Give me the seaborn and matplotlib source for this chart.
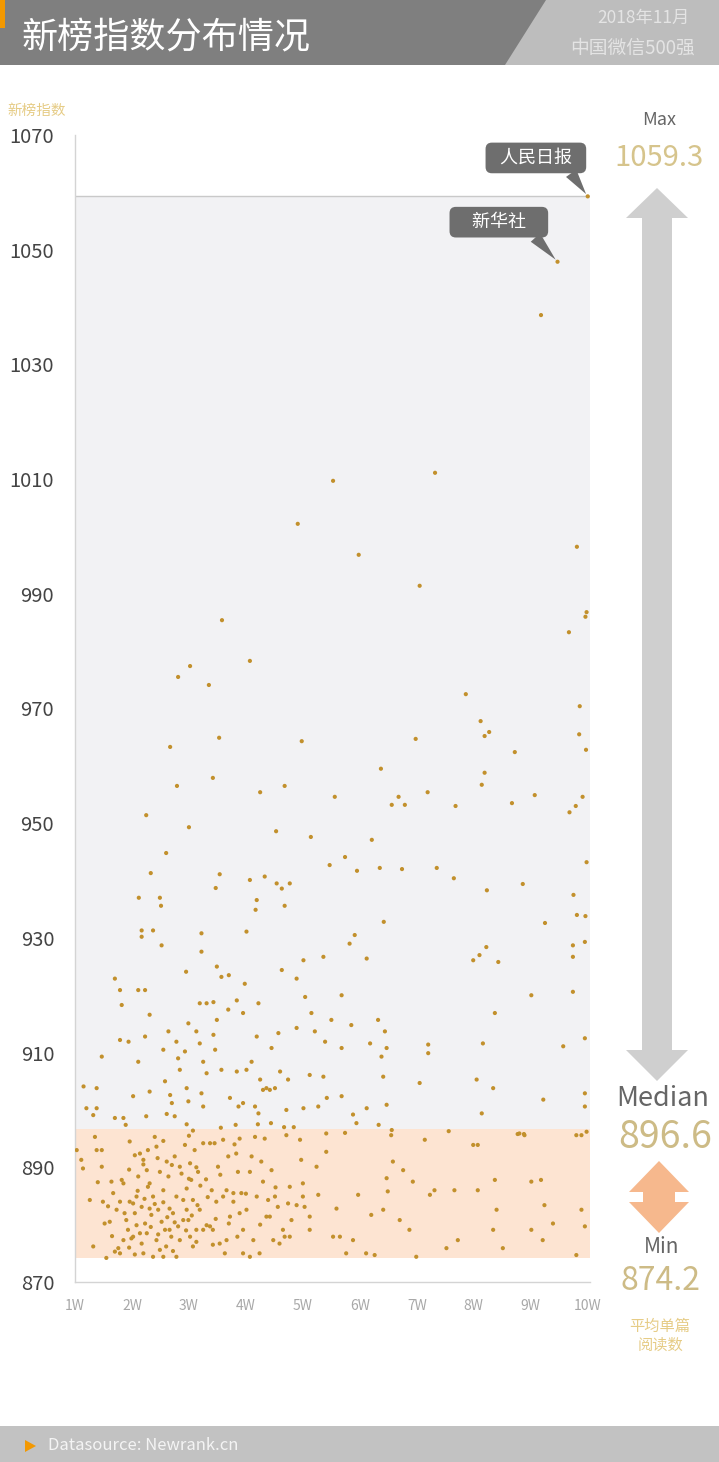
import numpy as np
import pandas as pd
import matplotlib
matplotlib.use("Agg")
import matplotlib.pyplot as plt
import seaborn as sns
from matplotlib.patches import Polygon, Rectangle

# ---------------- data ----------------
# (average reads per article in 万, 新榜指数)
top_pts = [
    (10.00, 1059.3), (9.47, 1047.9), (9.18, 1038.6), (7.32, 1011.1), (5.53, 1009.7),
    (4.91, 1002.2), (5.98, 996.8), (9.81, 998.2), (7.05, 991.4), (9.98, 986.8),
    (9.96, 986.0), (9.67, 983.3), (3.58, 985.4), (3.02, 977.4), (2.81, 975.5),
    (4.07, 978.3), (3.35, 974.1), (7.86, 972.5), (9.86, 970.4), (8.12, 967.8),
    (8.19, 965.2), (8.27, 965.9), (2.67, 963.3), (3.53, 964.9), (4.98, 964.3),
    (6.98, 964.7), (9.85, 965.5), (9.97, 962.8), (8.72, 962.4), (8.19, 958.8),
    (6.37, 959.5), (3.42, 957.9), (2.79, 956.5), (4.25, 955.4), (8.14, 956.7),
    (9.07, 954.9), (4.68, 956.5), (5.56, 954.6), (7.19, 955.4), (6.68, 954.6),
    (6.79, 953.2), (6.56, 953.2), (8.67, 953.5), (9.68, 951.9), (9.79, 953.0),
    (9.91, 954.6), (2.25, 951.4), (7.68, 953.0), (3.00, 949.3), (4.53, 948.6),
    (5.14, 947.6), (6.21, 947.1), (2.60, 944.8), (5.47, 942.7), (5.74, 944.1),
    (5.95, 941.7), (6.35, 942.2), (6.74, 942.0), (7.35, 942.2), (7.65, 940.4),
    (2.33, 941.3), (3.54, 941.1), (4.07, 940.1), (4.33, 940.7), (4.54, 939.5),
    (4.63, 938.6), (4.77, 939.5), (8.23, 938.3), (8.86, 939.4), (9.98, 943.2),
    (3.47, 938.7), (2.12, 937.0), (2.49, 937.0), (2.51, 935.6), (4.19, 936.6),
    (4.68, 935.6), (4.17, 934.9), (9.75, 937.5), (9.81, 934.0), (6.42, 932.8),
    (9.25, 932.6), (9.96, 933.8),
]

mid_pts = [
    (2.17, 931.3), (2.17, 930.2), (2.37, 931.3), (2.52, 928.7), (3.22, 930.8),
    (4.01, 931.1), (3.22, 927.6), (5.91, 930.5), (5.82, 929.0), (4.63, 924.4),
    (5.01, 926.1), (5.36, 926.7), (6.12, 926.4), (4.89, 922.9), (7.99, 926.1),
    (8.10, 927.0), (8.22, 928.4), (8.43, 925.8), (9.74, 928.7), (9.95, 929.3),
    (9.74, 926.7), (1.70, 922.9), (1.79, 920.9), (2.11, 920.9), (2.23, 920.9),
    (3.49, 925.0), (3.57, 923.2), (3.98, 922.0), (5.04, 919.7), (5.68, 920.0),
    (9.01, 920.0), (9.74, 920.6), (3.19, 918.6), (3.31, 918.6), (3.43, 918.8),
    (3.84, 919.1), (2.95, 924.1), (3.70, 923.5),
    (1.82, 918.3), (2.31, 916.6), (2.64, 913.7), (2.78, 911.9), (2.81, 909.0),
    (2.84, 907.0), (2.93, 910.2), (2.99, 915.1), (3.13, 913.7), (3.19, 911.6),
    (3.25, 908.4), (3.31, 906.4), (3.43, 913.1), (3.49, 915.7), (3.57, 907.0),
    (3.69, 917.5), (3.84, 906.7), (3.95, 916.9), (4.01, 907.0), (4.10, 908.4),
    (4.19, 912.8), (4.22, 918.6), (4.25, 905.3), (4.30, 903.5), (4.45, 910.8),
    (4.51, 903.8), (4.57, 913.4), (4.60, 906.7), (4.74, 905.3), (4.89, 914.3),
    (5.01, 900.3), (5.12, 906.1), (5.15, 916.9), (5.21, 913.7), (5.27, 900.6),
    (5.36, 905.8), (5.39, 911.9), (5.42, 902.1), (5.50, 915.7), (5.68, 910.8),
    (5.68, 902.4), (5.85, 914.8), (5.88, 899.2), (5.94, 897.7), (6.12, 900.3),
    (6.18, 911.6), (6.32, 915.7), (6.38, 909.3), (6.41, 905.8), (6.44, 913.7),
    (6.47, 910.8), (6.47, 900.9), (7.05, 904.7), (7.20, 911.4), (7.20, 909.9),
    (8.05, 905.3), (8.14, 899.4), (8.16, 911.6), (8.34, 903.8), (8.37, 916.9),
    (9.22, 901.8), (9.57, 911.1), (9.95, 912.5), (9.95, 902.9), (9.95, 900.6),
    (1.15, 904.1), (1.38, 903.8), (1.20, 900.3), (1.38, 900.3), (1.47, 909.3),
    (1.70, 898.6), (1.85, 898.6), (1.79, 912.2), (1.94, 911.9), (2.02, 902.4),
    (2.11, 908.4), (2.23, 912.8), (2.31, 903.2), (2.55, 910.5), (2.58, 905.0),
    (2.67, 902.6), (2.70, 901.2), (2.96, 903.8), (2.99, 901.5), (3.22, 902.9),
    (3.25, 900.6), (3.46, 910.5), (3.72, 902.1), (3.87, 900.6), (3.95, 901.2),
    (4.16, 900.6), (4.22, 899.4), (4.36, 903.8), (4.42, 903.5), (4.71, 900.0),
    (1.32, 899.1), (2.25, 898.9), (2.61, 899.3), (2.75, 898.9),
]

band_pts = [
    (1.89, 897.4), (2.96, 897.5), (3.07, 896.4), (3.56, 896.9), (3.82, 897.4),
    (4.21, 897.5), (4.44, 897.7), (4.67, 897.0), (4.84, 897.0), (6.33, 897.4),
    (5.74, 896.0), (6.56, 896.5), (7.56, 896.3), (8.77, 895.8), (8.88, 895.8),
    (9.89, 895.6), (9.98, 896.2),
    (1.03, 893.0), (1.11, 891.3), (1.14, 889.8), (1.35, 895.3), (1.38, 893.0),
    (1.47, 893.0), (1.47, 890.1), (1.64, 887.5), (1.67, 885.5), (1.73, 882.6),
    (1.79, 884.0), (1.82, 887.8), (1.85, 887.2), (1.90, 880.8), (1.93, 879.1),
    (1.96, 894.5), (1.99, 877.6), (2.02, 883.7), (2.05, 882.0), (2.08, 884.9),
    (2.11, 888.4), (2.14, 892.4), (2.17, 883.1), (2.20, 891.3), (2.23, 880.2),
    (2.26, 878.5), (2.28, 886.6), (2.31, 882.8), (2.34, 881.7), (2.37, 884.9),
    (2.40, 895.3), (2.43, 893.6), (2.43, 877.3), (2.46, 882.6), (2.49, 889.2),
    (2.52, 880.5), (2.55, 886.0), (2.58, 879.1), (2.61, 891.0), (2.64, 888.4),
    (2.66, 882.8), (2.69, 877.9), (2.72, 882.0), (2.75, 891.9), (2.78, 884.9),
    (2.81, 879.7), (2.84, 890.1), (2.90, 884.3), (2.93, 893.9), (2.96, 886.3),
    (2.99, 880.8), (3.02, 890.7), (3.04, 887.8), (3.07, 884.3), (3.10, 893.0),
    (3.13, 879.1), (3.16, 889.2), (3.19, 882.6), (3.25, 894.2), (3.31, 879.9),
    (3.37, 894.2), (3.40, 886.0), (3.42, 879.1), (3.45, 894.2), (3.48, 884.0),
    (3.51, 890.1), (3.54, 876.7), (3.60, 894.8), (3.63, 875.0), (3.66, 886.0),
    (3.69, 891.9), (3.72, 881.4), (3.78, 884.0), (3.83, 892.4), (3.86, 889.2),
    (3.89, 895.0), (3.92, 885.5), (3.95, 879.1), (4.01, 882.6), (4.07, 889.2),
    (4.10, 891.9), (4.13, 877.3), (4.16, 895.3), (4.19, 884.9), (4.27, 891.0),
    (4.30, 887.5), (4.33, 895.0), (4.36, 881.4), (4.39, 884.3), (4.45, 889.5),
    (4.48, 877.3), (4.51, 884.9), (4.56, 883.1), (4.65, 879.1), (4.68, 877.9),
    (4.71, 895.6), (4.74, 883.7), (4.77, 877.9), (4.80, 880.8), (4.89, 883.4),
    (4.95, 894.8), (4.97, 891.3), (5.00, 887.2), (5.03, 883.1), (5.12, 879.1),
    (5.24, 890.1), (5.27, 885.2), (5.41, 895.9), (5.41, 892.7), (5.53, 877.9),
    (5.59, 882.8), (5.65, 877.9), (5.76, 875.0), (5.88, 877.3), (5.97, 885.2),
    (6.11, 875.0), (6.20, 881.7), (6.26, 874.7), (6.41, 882.6), (6.47, 888.1),
    (6.49, 885.8), (6.55, 895.6), (6.58, 891.0), (6.70, 880.8), (6.76, 889.5),
    (6.87, 879.1), (6.93, 887.5), (6.99, 874.4), (7.14, 894.8), (7.23, 885.2),
    (7.31, 886.0), (7.52, 875.9), (7.66, 886.0), (7.72, 877.3), (7.99, 893.9),
    (8.07, 893.9), (8.07, 886.0), (8.34, 879.1), (8.37, 887.8), (8.40, 882.6),
    (8.51, 875.9), (8.80, 895.9), (8.89, 895.6), (9.01, 887.5), (9.01, 879.1),
    (9.18, 887.8), (9.21, 877.3), (9.24, 883.4), (9.39, 880.2), (9.80, 895.6),
    (9.80, 874.7), (9.89, 882.6), (9.95, 879.7),
    (1.26, 884.3), (1.32, 876.2), (1.49, 884.0), (1.52, 880.2), (1.55, 874.2),
    (1.61, 880.5), (1.70, 875.3), (1.76, 875.9), (1.79, 875.0), (1.85, 877.3),
    (1.87, 882.0), (1.96, 884.0), (2.02, 877.9), (2.08, 879.9), (2.14, 878.5),
    (2.17, 876.7), (2.20, 875.0), (2.26, 889.5), (2.31, 887.2), (2.37, 874.4),
    (2.49, 875.6), (2.55, 874.4), (2.66, 879.1), (2.78, 874.4), (2.84, 877.3),
    (2.90, 880.8), (2.96, 882.6), (3.02, 877.9), (3.07, 876.2), (3.13, 877.0),
    (3.25, 879.1), (3.37, 879.7), (3.42, 876.5), (3.60, 884.9), (3.66, 877.3),
    (3.78, 885.5), (3.89, 882.0), (3.95, 875.0), (4.07, 874.4), (4.24, 875.0),
    (4.42, 881.4), (4.59, 876.7), (4.77, 886.6), (5.00, 884.9), (5.12, 881.4),
    (2.05, 892.1), (2.20, 890.5), (2.45, 891.6), (2.70, 890.4), (2.87, 888.9),
    (3.00, 888.0), (3.13, 890.0), (3.20, 886.8), (2.10, 885.9), (2.22, 884.5),
    (2.40, 883.6), (2.55, 883.9), (2.62, 881.3), (2.75, 880.4), (2.95, 879.0),
    (3.05, 881.6), (3.15, 883.4), (2.33, 879.6), (2.46, 878.3), (2.60, 876.2),
    (2.72, 875.4), (1.95, 876.0), (2.05, 874.8), (1.65, 878.0), (1.58, 883.2),
    (1.40, 887.4), (1.95, 889.6), (3.30, 887.9), (3.55, 888.7), (3.70, 880.2),
    (3.85, 877.9), (4.00, 885.4), (4.25, 880.0), (4.52, 886.5), (3.33, 884.8),
    (3.47, 881.0), (2.28, 893.0), (2.55, 894.6), (3.00, 895.5), (3.80, 894.0),
]

max_val = 1059.3
median_val = 896.6
min_val = 874.2

y_ticks = [870, 890, 910, 930, 950, 970, 990, 1010, 1030, 1050, 1070]
x_ticks = [1, 2, 3, 4, 5, 6, 7, 8, 9, 10]
x_labels = ["1W", "2W", "3W", "4W", "5W", "6W", "7W", "8W", "9W", "10W"]

callout_names = ["人民日报", "新华社"]
callout_pts = [(10.00, 1059.3), (9.47, 1047.9)]

df = pd.DataFrame(top_pts + mid_pts + band_pts, columns=["reads", "index"])

# ---------------- figure ----------------
sns.set_theme(style="white")
plt.rcParams["font.family"] = ["Noto Sans CJK SC", "DejaVu Sans"]

W, H = 719, 1462
fig = plt.figure(figsize=(W / 100, H / 100), dpi=100, facecolor="white")

# decoration layer in pixel coordinates
deco = fig.add_axes([0, 0, 1, 1], zorder=0)
deco.set_xlim(0, W)
deco.set_ylim(H, 0)
deco.axis("off")

# header
deco.add_patch(Rectangle((0, 0), W, 65, color="#7f7f7f", lw=0))
deco.add_patch(Polygon([(546, 0), (W, 0), (W, 65), (505, 65)], closed=True, color="#bdbdbd", lw=0))
deco.add_patch(Rectangle((0, 0), 5, 28, color="#f39800", lw=0))
deco.text(22, 37, "新榜指数分布情况", color="white", fontsize=26, va="center", ha="left")
deco.text(643, 18, "2018年11月", color="#e4e4e4", fontsize=12.5, va="center", ha="center")
deco.text(633, 48, "中国微信500强", color="#e4e4e4", fontsize=13.5, va="center", ha="center")

# footer
deco.add_patch(Rectangle((0, 1426), W, 36, color="#c2c2c2", lw=0))
deco.add_patch(Polygon([(25, 1440), (25, 1452), (36, 1446)], closed=True, color="#f39800", lw=0))
deco.text(48, 1446, "Datasource: Newrank.cn", color="#f4f4f4", fontsize=12, va="center", ha="left")

# y label
deco.text(7, 111, "新榜指数", color="#e6cc86", fontsize=10.5, va="center", ha="left")

# right panel
deco.text(659, 120, "Max", color="#666666", fontsize=13, va="center", ha="center")
deco.text(659, 158, f"{max_val}", color="#d6c48c", fontsize=21, va="center", ha="center")
gray_arrow = [(657, 188), (688, 218), (672, 218), (672, 1050), (688, 1050), (657, 1081),
              (626, 1050), (642, 1050), (642, 218), (626, 218)]
deco.add_patch(Polygon(gray_arrow, closed=True, color="#cfcfcf", lw=0))
deco.text(663, 1099, "Median", color="#666666", fontsize=19.5, va="center", ha="center")
deco.text(665, 1137, f"{median_val}", color="#cdbb86", fontsize=27, va="center", ha="center")
peach_arrow = [(659, 1161), (689, 1192), (675, 1192), (675, 1202), (689, 1202), (659, 1233),
               (629, 1202), (643, 1202), (643, 1192), (629, 1192)]
deco.add_patch(Polygon(peach_arrow, closed=True, color="#f6b88d", lw=0))
deco.text(662, 1247, "Min", color="#666666", fontsize=15, va="center", ha="center")
deco.text(660, 1281, f"{min_val}", color="#cdbb86", fontsize=23, va="center", ha="center")
deco.text(660, 1336, "平均单篇\n阅读数", color="#e6cc86", fontsize=11, va="center", ha="center",
          linespacing=1.15)

# main scatter axes
ax = fig.add_axes([75 / W, 180 / H, 515 / W, 1147 / H], zorder=2)
ax.patch.set_alpha(0)
ax.set_xlim(1, 10.04)
ax.set_ylim(870, 1070)

ax.axhspan(median_val, max_val, color="#f2f2f4", lw=0, zorder=0)
ax.axhspan(min_val, median_val, color="#fde4d2", lw=0, zorder=0)
ax.axhline(max_val, color="#c9c9c9", lw=1, zorder=1)

sns.scatterplot(data=df, x="reads", y="index", ax=ax, s=9, color="#c2902c",
                edgecolor="none", linewidth=0, legend=False, zorder=3)

box_pos = [(9.09, 1066.0), (8.44, 1054.8)]
box_pad = ["  ", "    "]
for name, (px, py), (tx, ty), sp in zip(callout_names, callout_pts, box_pos, box_pad):
    ax.annotate(sp + name + sp, xy=(px, py), xytext=(tx, ty), ha="center", va="center",
                color="white", fontsize=13, zorder=5,
                bbox=dict(boxstyle="round,pad=0.35,rounding_size=0.35", fc="#6e6e6e", ec="none"),
                arrowprops=dict(arrowstyle="wedge,tail_width=0.7,shrink_factor=0.5",
                                fc="#6e6e6e", ec="none", relpos=(0.82, 0.2),
                                shrinkA=0, shrinkB=2))

ax.set_yticks(y_ticks)
ax.set_xticks(x_ticks, x_labels)
ax.tick_params(axis="y", length=0, pad=15, labelsize=14.5, labelcolor="#444444")
ax.tick_params(axis="x", length=0, pad=12, labelsize=10, labelcolor="#a8a8a8")
ax.set_xlabel("")
ax.set_ylabel("")
for side in ["top", "right"]:
    ax.spines[side].set_visible(False)
for side in ["left", "bottom"]:
    ax.spines[side].set_color("#d4d4d4")
    ax.spines[side].set_linewidth(1)

fig.savefig("out.png", dpi=100, facecolor="white")
